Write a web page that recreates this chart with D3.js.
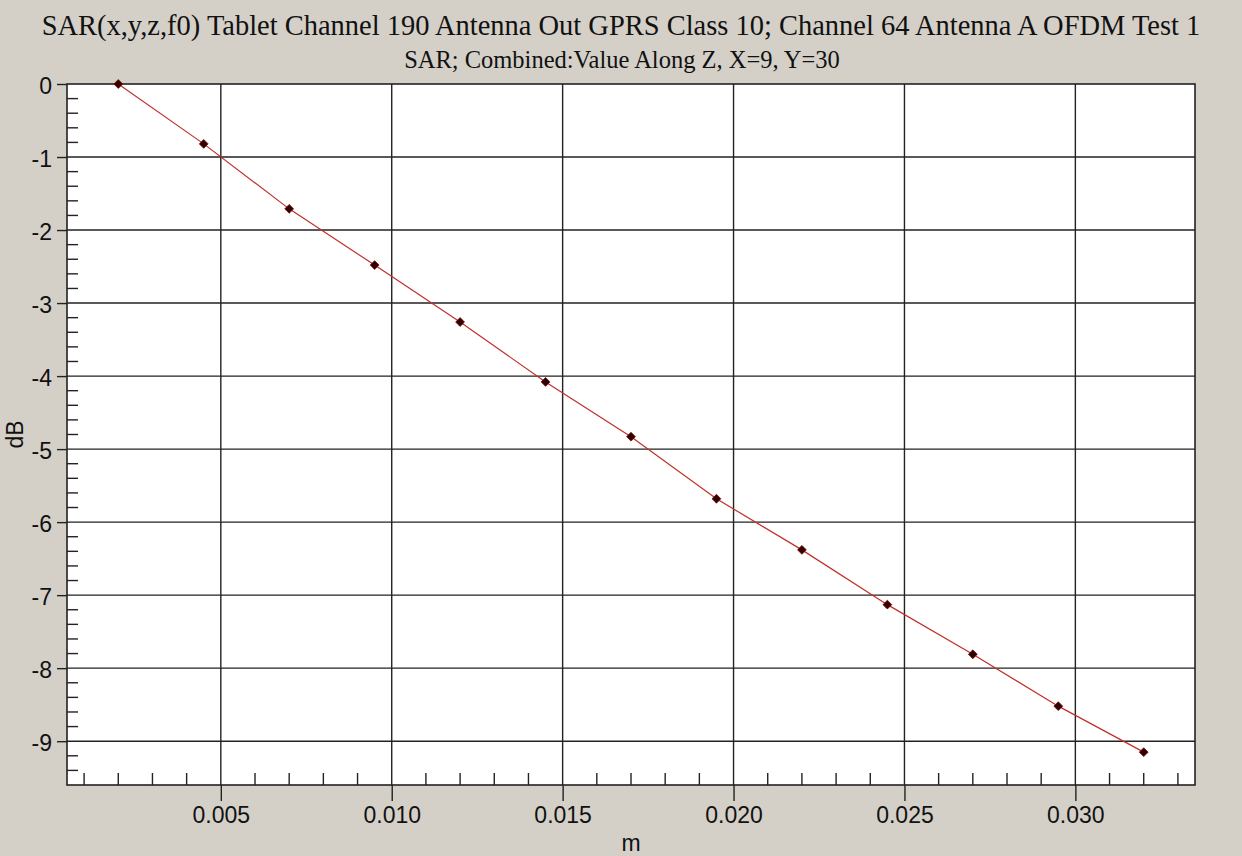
<!DOCTYPE html>
<html>
<head>
<meta charset="utf-8">
<script src="https://cdn.jsdelivr.net/npm/d3@7"></script>
<style>
  html, body { margin: 0; padding: 0; background: #d4d0c8; }
  svg { display: block; }
</style>
</head>
<body>
<svg id="chart" width="1242" height="856"></svg>
<script>
// Distance along Z (m) and combined SAR relative level (dB)
const distance = [0.0020, 0.0045, 0.0070, 0.0095, 0.0120, 0.0145, 0.0170,
                  0.0195, 0.0220, 0.0245, 0.0270, 0.0295, 0.0320];
const sarDb = [0.00, -0.82, -1.71, -2.48, -3.26, -4.08, -4.83,
               -5.68, -6.38, -7.13, -7.81, -8.52, -9.15];

const xMajorTicks = [0.005, 0.010, 0.015, 0.020, 0.025, 0.030];
const xMinorTicks = [0.001, 0.002, 0.003, 0.004, 0.006, 0.007, 0.008, 0.009,
                     0.011, 0.012, 0.013, 0.014, 0.016, 0.017, 0.018, 0.019,
                     0.021, 0.022, 0.023, 0.024, 0.026, 0.027, 0.028, 0.029,
                     0.031, 0.032, 0.033];
const yMajorTicks = [0, -1, -2, -3, -4, -5, -6, -7, -8, -9];
const yMinorTicks = d3.range(-1, -48, -1).map(i => +(i * 0.2).toFixed(1))
                      .filter(v => Math.abs(v - Math.round(v)) > 1e-9);

const titleText = "SAR(x,y,z,f0) Tablet Channel 190 Antenna Out GPRS Class 10; Channel 64 Antenna A OFDM Test 1";
const subtitleText = "SAR; Combined:Value Along Z, X=9, Y=30";
const xLabel = "m";
const yLabel = "dB";

const svg = d3.select("#chart");
const plot = { left: 67, right: 1195, top: 84, bottom: 785 };

const x = d3.scaleLinear().domain([0.0005, 0.0335]).range([plot.left, plot.right]);
const y = d3.scaleLinear().domain([-9.6, 0]).range([plot.bottom, plot.top]);

const gridColor = "#222222";
const labelFont = "'Liberation Sans', Arial, sans-serif";
const titleFont = "'Liberation Serif', 'Times New Roman', serif";

// plot background
svg.append("rect")
  .attr("x", plot.left).attr("y", plot.top)
  .attr("width", plot.right - plot.left).attr("height", plot.bottom - plot.top)
  .attr("fill", "#ffffff");

// grid lines
const grid = svg.append("g").attr("stroke", gridColor).attr("stroke-width", 1.4);
grid.selectAll("line.vx").data(xMajorTicks).join("line")
  .attr("x1", d => x(d)).attr("x2", d => x(d))
  .attr("y1", plot.top).attr("y2", plot.bottom);
grid.selectAll("line.hy").data(yMajorTicks.filter(d => d !== 0)).join("line")
  .attr("x1", plot.left).attr("x2", plot.right)
  .attr("y1", d => y(d)).attr("y2", d => y(d));

// minor ticks inside the frame
const minor = svg.append("g").attr("stroke", gridColor).attr("stroke-width", 1.4);
minor.selectAll("line.mx").data(xMinorTicks).join("line")
  .attr("x1", d => x(d)).attr("x2", d => x(d))
  .attr("y1", plot.bottom).attr("y2", plot.bottom - 12);
minor.selectAll("line.my").data(yMinorTicks).join("line")
  .attr("x1", plot.left).attr("x2", plot.left + 11)
  .attr("y1", d => y(d)).attr("y2", d => y(d));

// axes with outward major ticks
const xAxis = d3.axisBottom(x).tickValues(xMajorTicks).tickSize(16).tickPadding(6)
  .tickFormat(d3.format(".3f"));
const gx = svg.append("g").attr("transform", `translate(0,${plot.bottom})`).call(xAxis);
const yAxis = d3.axisLeft(y).tickValues(yMajorTicks).tickSize(10).tickPadding(5)
  .tickFormat(d => String(d));
const gy = svg.append("g").attr("transform", `translate(${plot.left},0)`).call(yAxis);

[gx, gy].forEach(g => {
  g.select(".domain").remove();
  g.selectAll(".tick line").attr("stroke", gridColor).attr("stroke-width", 1.4);
  g.selectAll(".tick text")
    .attr("fill", "#111")
    .style("font-family", labelFont)
    .style("font-size", "23px");
});
gy.selectAll(".tick text").attr("dy", "0.4em");

// frame
svg.append("rect")
  .attr("x", plot.left).attr("y", plot.top)
  .attr("width", plot.right - plot.left).attr("height", plot.bottom - plot.top)
  .attr("fill", "none").attr("stroke", gridColor).attr("stroke-width", 1.6);

// data line and markers
const line = d3.line().x((d, i) => x(distance[i])).y(d => y(d));
svg.append("path")
  .datum(sarDb)
  .attr("d", line)
  .attr("fill", "none")
  .attr("stroke", "#c0302a")
  .attr("stroke-width", 1.2);

const diamond = d3.symbol().type(d3.symbolDiamond2).size(50);
svg.selectAll("path.marker").data(sarDb).join("path")
  .attr("class", "marker")
  .attr("d", diamond)
  .attr("transform", (d, i) => `translate(${x(distance[i])},${y(d)})`)
  .attr("fill", "#2e0000")
  .attr("stroke", "#7a0a0a")
  .attr("stroke-width", 0.8);

// axis titles
svg.append("text")
  .attr("x", (plot.left + plot.right) / 2).attr("y", 851)
  .attr("text-anchor", "middle")
  .style("font-family", labelFont).style("font-size", "23px")
  .attr("fill", "#111")
  .text(xLabel);
svg.append("text")
  .attr("transform", `translate(23,${(plot.top + plot.bottom) / 2}) rotate(-90)`)
  .attr("text-anchor", "middle")
  .style("font-family", labelFont).style("font-size", "23px")
  .attr("fill", "#111")
  .text(yLabel);

// titles, sized to their line widths
function fitText(text, cx, baseline, width, startSize) {
  const t = svg.append("text")
    .attr("x", cx).attr("y", baseline)
    .attr("text-anchor", "middle")
    .style("font-family", titleFont)
    .style("font-size", startSize + "px")
    .attr("fill", "#111")
    .text(text);
  const w = t.node().getComputedTextLength();
  t.style("font-size", (startSize * width / w).toFixed(2) + "px");
  return t;
}
fitText(titleText, 621, 35, 1159, 28);
fitText(subtitleText, 622, 68, 436, 22);
</script>
</body>
</html>
